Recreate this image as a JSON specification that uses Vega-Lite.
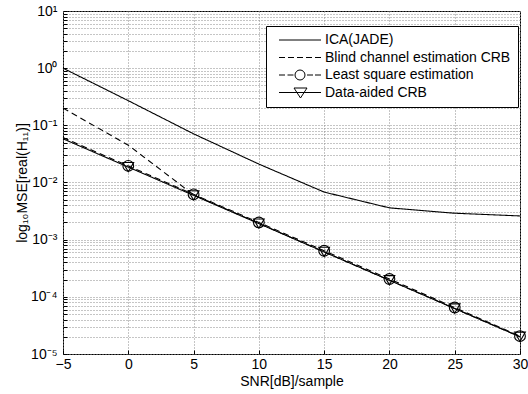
{
  "$schema": "https://vega.github.io/schema/vega-lite/v6.json",
  "autosize": {"type": "none"},
  "padding": {"left": 63, "top": 11, "right": 8, "bottom": 40},
  "width": 457,
  "height": 343,
  "config": {
    "font": "Liberation Sans",
    "view": {"stroke": "black", "strokeWidth": 1},
    "axis": {
      "domain": false,
      "ticks": true,
      "tickColor": "black",
      "tickSize": -4,
      "labelColor": "black",
      "titleColor": "black",
      "labelFont": "Liberation Sans",
      "titleFont": "Liberation Sans",
      "labelFontSize": 14,
      "titleFontSize": 14,
      "titleFontWeight": "normal",
      "gridColor": "#8a8a8a",
      "gridDash": [1, 2],
      "gridWidth": 1,
      "gridOpacity": 1
    }
  },
  "data": {
    "values": [
      {"series": "ICA(JADE)", "snr": -5, "mse": 1.0},
      {"series": "ICA(JADE)", "snr": 0, "mse": 0.27},
      {"series": "ICA(JADE)", "snr": 5, "mse": 0.071},
      {"series": "ICA(JADE)", "snr": 10, "mse": 0.021},
      {"series": "ICA(JADE)", "snr": 15, "mse": 0.0068},
      {"series": "ICA(JADE)", "snr": 20, "mse": 0.0036},
      {"series": "ICA(JADE)", "snr": 25, "mse": 0.0029},
      {"series": "ICA(JADE)", "snr": 30, "mse": 0.0026},
      {"series": "Blind channel estimation CRB", "snr": -5, "mse": 0.2},
      {"series": "Blind channel estimation CRB", "snr": 0, "mse": 0.045},
      {"series": "Blind channel estimation CRB", "snr": 5, "mse": 0.0061},
      {"series": "Blind channel estimation CRB", "snr": 10, "mse": 0.00192},
      {"series": "Blind channel estimation CRB", "snr": 15, "mse": 0.00061},
      {"series": "Blind channel estimation CRB", "snr": 20, "mse": 0.000195},
      {"series": "Blind channel estimation CRB", "snr": 25, "mse": 0.0000624},
      {"series": "Blind channel estimation CRB", "snr": 30, "mse": 0.00002},
      {"series": "Least square estimation", "snr": -5, "mse": 0.061},
      {"series": "Least square estimation", "snr": 0, "mse": 0.0195},
      {"series": "Least square estimation", "snr": 5, "mse": 0.0062},
      {"series": "Least square estimation", "snr": 10, "mse": 0.002},
      {"series": "Least square estimation", "snr": 15, "mse": 0.00064},
      {"series": "Least square estimation", "snr": 20, "mse": 0.000205},
      {"series": "Least square estimation", "snr": 25, "mse": 0.000065},
      {"series": "Least square estimation", "snr": 30, "mse": 0.0000205},
      {"series": "\u00a0Data-aided CRB", "snr": -5, "mse": 0.0582},
      {"series": "\u00a0Data-aided CRB", "snr": 0, "mse": 0.0186},
      {"series": "\u00a0Data-aided CRB", "snr": 5, "mse": 0.00596},
      {"series": "\u00a0Data-aided CRB", "snr": 10, "mse": 0.00191},
      {"series": "\u00a0Data-aided CRB", "snr": 15, "mse": 0.00061},
      {"series": "\u00a0Data-aided CRB", "snr": 20, "mse": 0.000195},
      {"series": "\u00a0Data-aided CRB", "snr": 25, "mse": 0.0000624},
      {"series": "\u00a0Data-aided CRB", "snr": 30, "mse": 0.00002}
    ]
  },
  "encoding": {
    "x": {
      "field": "snr",
      "type": "quantitative",
      "scale": {"domain": [-5, 30], "nice": false, "zero": false},
      "axis": {
        "title": "SNR[dB]/sample",
        "values": [-5, 0, 5, 10, 15, 20, 25, 30],
        "labelPadding": 7,
        "titlePadding": 3,
        "labelFlush": false
      }
    },
    "y": {
      "field": "mse",
      "type": "quantitative",
      "scale": {"type": "log", "domain": [0.00001, 10], "nice": false},
      "axis": {
        "title": "log\u2081\u2080MSE[real(H\u2081\u2081)]",
        "values": [0.00001, 0.00002, 0.00003, 0.00004, 0.00005, 0.00006, 0.00007, 0.00008, 0.00009,
                   0.0001, 0.0002, 0.0003, 0.0004, 0.0005, 0.0006, 0.0007, 0.0008, 0.0009,
                   0.001, 0.002, 0.003, 0.004, 0.005, 0.006, 0.007, 0.008, 0.009,
                   0.01, 0.02, 0.03, 0.04, 0.05, 0.06, 0.07, 0.08, 0.09,
                   0.1, 0.2, 0.3, 0.4, 0.5, 0.6, 0.7, 0.8, 0.9,
                   1, 2, 3, 4, 5, 6, 7, 8, 9, 10],
        "labelExpr": "abs(log(datum.value)/LN10 - round(log(datum.value)/LN10)) < 0.001 ? ['10\u207b\u2075','10\u207b\u2074','10\u207b\u00b3','10\u207b\u00b2','10\u207b\u00b9','10\u2070','10\u00b9'][round(log(datum.value)/LN10)+5] : ''",
        "labelOverlap": false,
        "labelFlush": false,
        "labelPadding": 10,
        "titlePadding": 1
      }
    }
  },
  "resolve": {"scale": {"shape": "independent"}, "legend": {"shape": "independent"}},
  "layer": [
    {
      "mark": {"type": "line", "color": "black", "strokeWidth": 1.1},
      "encoding": {
        "strokeDash": {
          "field": "series",
          "type": "nominal",
          "scale": {
            "domain": ["ICA(JADE)", "Blind channel estimation CRB", "Least square estimation", "\u00a0Data-aided CRB"],
            "range": [[1, 0], [6, 4], [6, 4], [1, 0]]
          },
          "legend": null
        },
        "detail": {"field": "series"}
      }
    },
    {
      "transform": [
        {"filter": "datum.snr >= 0 && (datum.series === 'Least square estimation' || datum.series === '\u00a0Data-aided CRB')"}
      ],
      "mark": {"type": "point", "filled": false, "stroke": "black", "strokeWidth": 1.1, "size": 115, "opacity": 1},
      "encoding": {
        "shape": {
          "field": "series",
          "type": "nominal",
          "scale": {
            "domain": ["Least square estimation", "\u00a0Data-aided CRB"],
            "range": ["circle", "triangle-down"]
          },
          "legend": null
        }
      }
    },
    {
      "transform": [{"filter": "datum.snr > 1000"}],
      "mark": {"type": "point", "filled": false, "stroke": "black", "strokeWidth": 1, "size": 4, "opacity": 1},
      "encoding": {
        "shape": {
          "field": "series",
          "type": "nominal",
          "scale": {
            "domain": ["ICA(JADE)", "Blind channel estimation CRB", "Least square estimation", "\u00a0Data-aided CRB"],
            "range": [
              "M-1,0H41",
              "M-1,0H5M8,0H14M17,0H23M26,0H32M35,0H41",
              "M-1,0H5M7.5,0H13.5M15,0A5,5 0 1,0 25,0A5,5 0 1,0 15,0M27,0H33M35,0H41",
              "M-1,0H41M14,-4.5H27L20.5,5.5Z"
            ]
          },
          "legend": {
            "title": null,
            "orient": "none",
            "legendX": 203,
            "legendY": 15,
            "fillColor": "white",
            "strokeColor": "black",
            "padding": 7,
            "labelFont": "Liberation Sans",
            "labelFontSize": 14,
            "labelColor": "black",
            "labelOffset": 38,
            "labelLimit": 400,
            "rowPadding": 3.5,
            "symbolSize": 4,
            "symbolStrokeColor": "black",
            "symbolFillColor": "transparent",
            "symbolStrokeWidth": 1,
            "symbolOpacity": 1
          }
        }
      }
    }
  ]
}
